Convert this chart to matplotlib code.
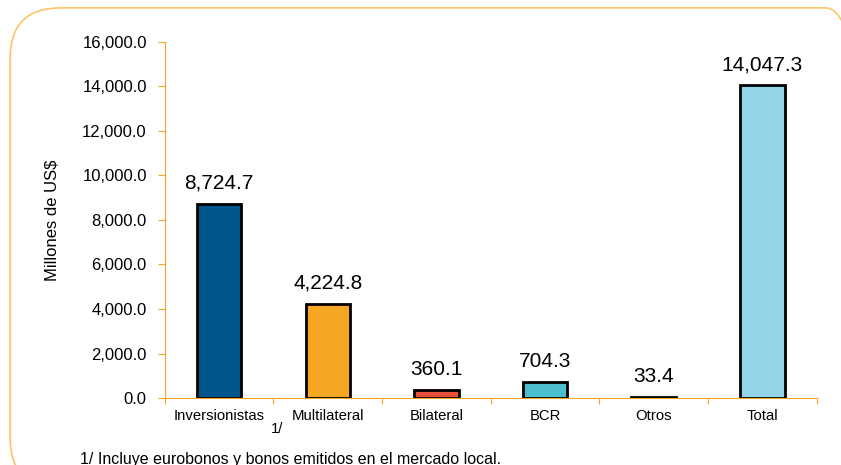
import matplotlib
matplotlib.use("Agg")
import matplotlib.pyplot as plt
from matplotlib.patches import FancyBboxPatch
from matplotlib.ticker import FuncFormatter

categories = ["Inversionistas", "Multilateral", "Bilateral", "BCR", "Otros", "Total"]
values = [8724.7, 4224.8, 360.1, 704.3, 33.4, 14047.3]
colors = ["#00558A", "#F5A623", "#E8503A", "#4BBFCF", "#E07B20", "#93D4E8"]
yticks = [0, 2000, 4000, 6000, 8000, 10000, 12000, 14000, 16000]

plt.rcParams['font.family'] = ['Liberation Sans', 'DejaVu Sans']
orange = "#F5A623"

fig = plt.figure(figsize=(8.41, 4.65), dpi=100)

# rounded orange frame
frame = FancyBboxPatch((0.012, -0.05), 1.03, 1.033, boxstyle="round,pad=0,rounding_size=0.06",
                       transform=fig.transFigure, fill=False, edgecolor="#F9C46B", linewidth=1.2,
                       mutation_aspect=841/465)
fig.patches.append(frame)

ax = fig.add_axes([0.196, 0.144, 0.775, 0.766])
x = range(len(categories))
ax.bar(x, values, width=0.41, color=colors, edgecolor="black", linewidth=2)

for xi, v in zip(x, values):
    ax.text(xi, v + 500, f"{v:,.1f}", ha="center", va="bottom", fontsize=15)

ax.set_xlim(-0.5, len(categories) - 0.5)
ax.set_ylim(0, 16000)
ax.set_yticks(yticks)
ax.yaxis.set_major_formatter(FuncFormatter(lambda v, p: f"{v:,.1f}"))
ax.set_xticks([i - 0.5 for i in range(len(categories) + 1)])
ax.set_xticklabels([])
ax.set_xticks(list(x), minor=True)
ax.set_xticklabels(categories, minor=True)
ax.tick_params(axis="x", which="minor", length=0, labelsize=10.7, pad=8)
ax.tick_params(axis="x", which="major", length=4, color=orange, direction="out")
ax.tick_params(axis="y", length=5, color=orange, labelsize=12, pad=8)

for s in ["top", "right"]:
    ax.spines[s].set_visible(False)
ax.spines["left"].set_color(orange)
ax.spines["bottom"].set_color(orange)
ax.set_ylabel("Millones de US$", fontsize=12, labelpad=16)

fig.text(0.322, 0.068, "1/", fontsize=10.7, ha="left")
fig.text(0.095, 0.003, "1/ Incluye eurobonos y bonos emitidos en el mercado local.", fontsize=11.5)

fig.savefig("out.png", dpi=100)
